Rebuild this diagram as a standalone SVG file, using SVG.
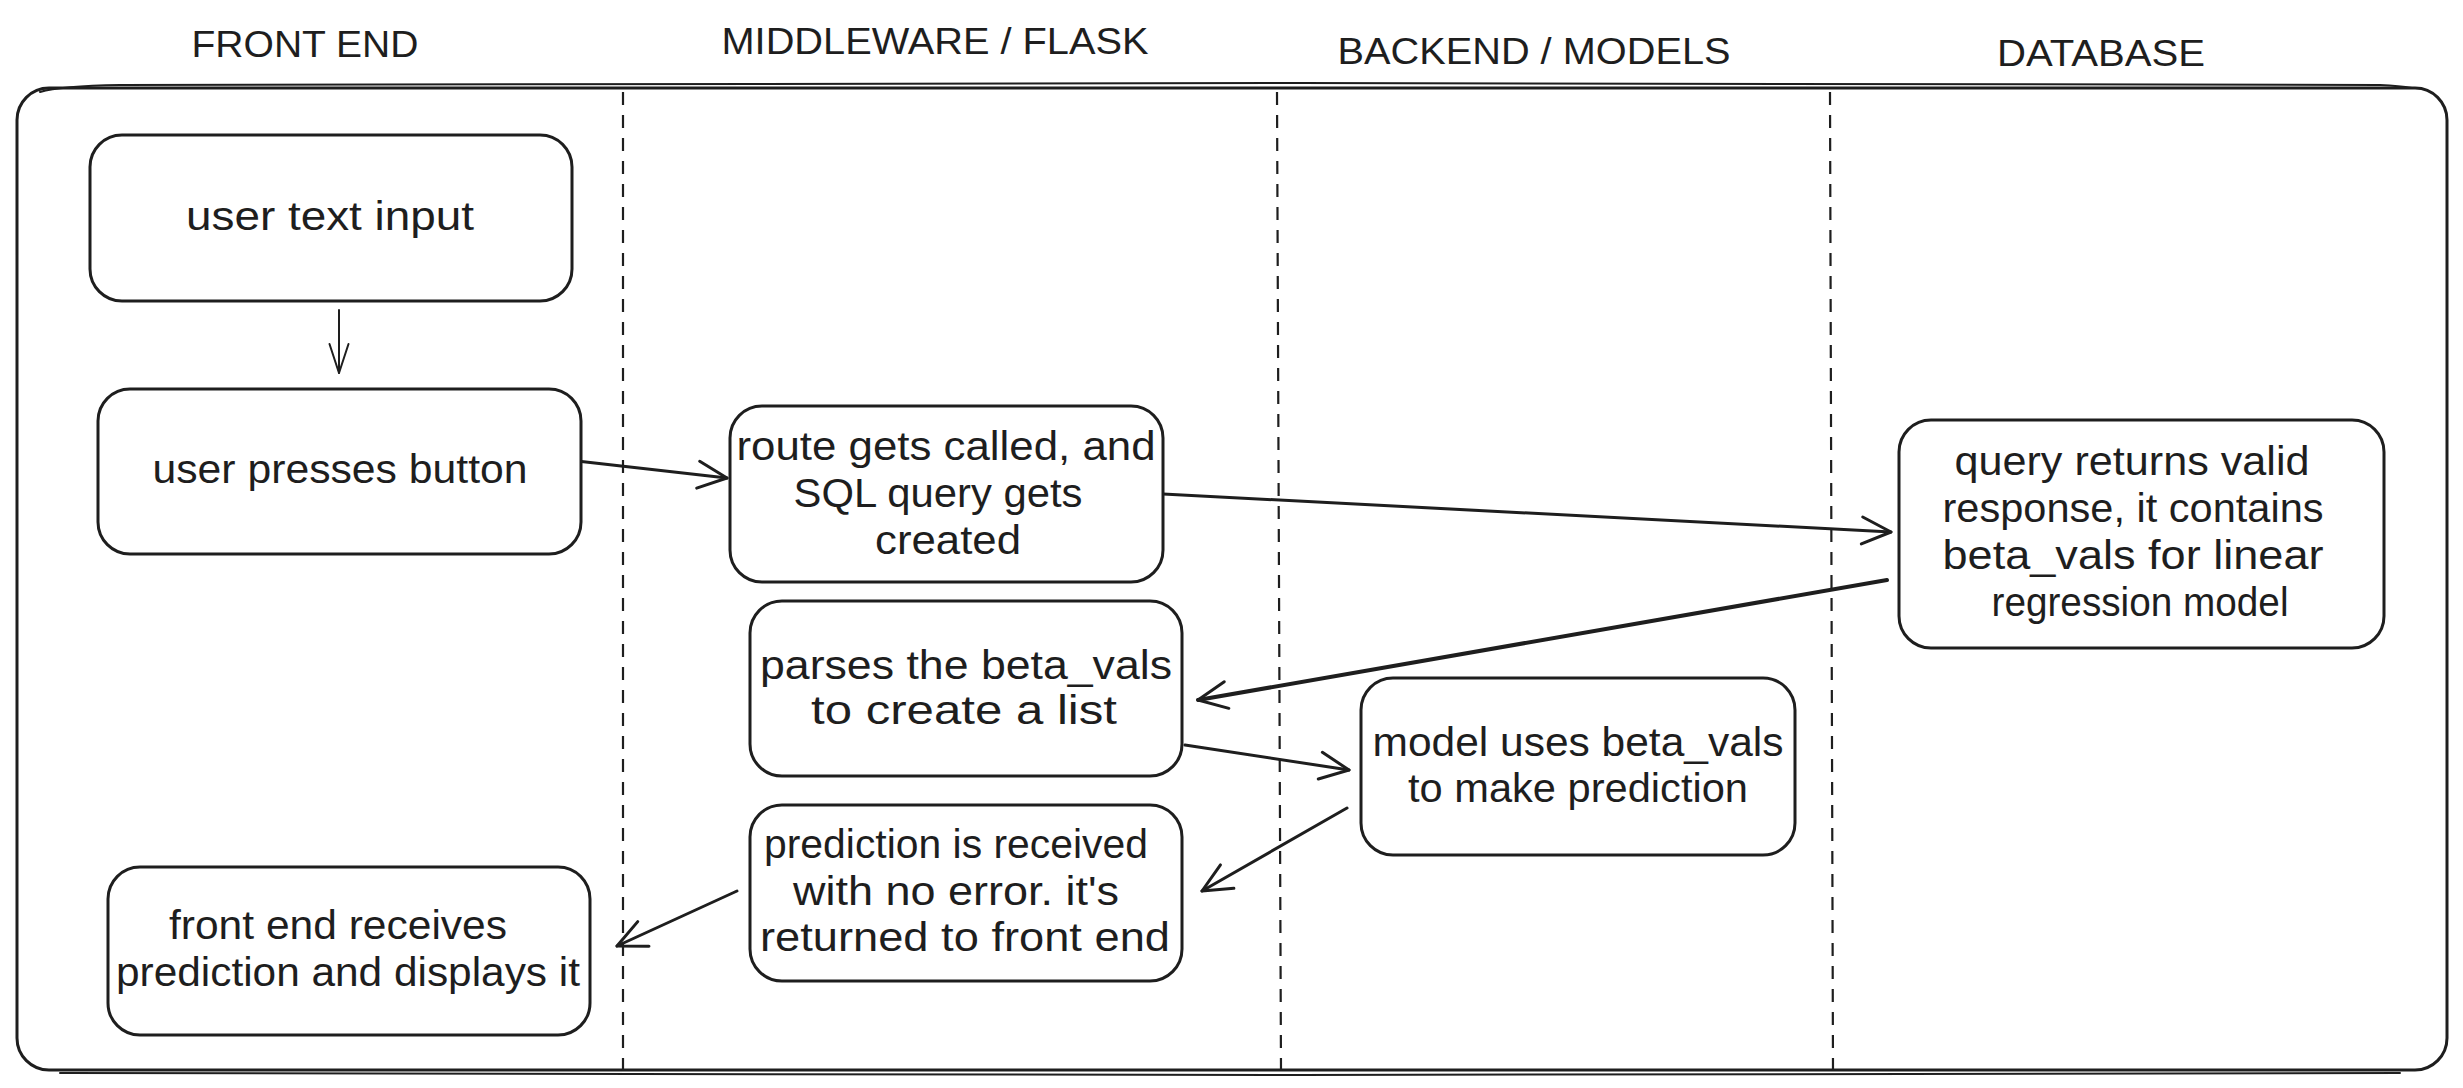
<svg xmlns="http://www.w3.org/2000/svg" width="2463" height="1088" viewBox="0 0 2463 1088">
<style>
  .box { fill: #ffffff; stroke: #1e1e1e; stroke-width: 3; }
  .frame { fill: none; stroke: #1e1e1e; stroke-width: 3; }
  .sketch { fill: none; stroke: #1e1e1e; stroke-width: 2; stroke-linecap: round; }
  .lane { fill: none; stroke: #1e1e1e; stroke-width: 2.2; stroke-dasharray: 13 10; }
  .lbl { font-family: "Liberation Sans", Arial, sans-serif; font-size: 40px; fill: #1e1e1e; text-anchor: middle; }
  .title { font-family: "Liberation Sans", Arial, sans-serif; font-size: 36px; fill: #1e1e1e; text-anchor: middle; }
  .conn { fill: none; stroke: #1e1e1e; stroke-width: 3; stroke-linecap: round; }
  .thin { stroke-width: 2; }
  .thick { stroke-width: 4; }
</style>
<defs>
  <marker id="arr" markerUnits="userSpaceOnUse" markerWidth="44" markerHeight="44" viewBox="-38 -22 44 44" refX="0" refY="0" orient="auto" overflow="visible">
    <path d="M -29 -13.5 L 0 0 L -29 13.5" fill="none" stroke="#1e1e1e" stroke-width="3" stroke-linecap="round" stroke-linejoin="round"/>
  </marker>
  <marker id="arrS" markerUnits="userSpaceOnUse" markerWidth="44" markerHeight="44" viewBox="-38 -22 44 44" refX="0" refY="0" orient="auto" overflow="visible">
    <path d="M -29 -9.5 L 0 0 L -29 9.5" fill="none" stroke="#1e1e1e" stroke-width="2" stroke-linecap="round" stroke-linejoin="round"/>
  </marker>
</defs>
<rect width="2463" height="1088" fill="#ffffff"/>

<g id="swimlanes">
  <rect class="frame" x="17" y="88" width="2430" height="982" rx="32" ry="32"/>
  <path class="sketch" d="M 40 92 Q 60 86 120 85 L 1300 83 L 2380 85 Q 2400 86 2412 88"/>
  <path class="sketch" d="M 60 1073 L 1300 1075 L 2400 1073"/>
  <line class="lane" x1="623" y1="92" x2="623" y2="1071"/>
  <line class="lane" x1="1277" y1="92" x2="1281" y2="1071"/>
  <line class="lane" x1="1830" y1="92" x2="1833" y2="1071"/>
  <text class="title" x="305" y="57" textLength="227" lengthAdjust="spacingAndGlyphs">FRONT END</text>
  <text class="title" x="935" y="54" textLength="427" lengthAdjust="spacingAndGlyphs">MIDDLEWARE / FLASK</text>
  <text class="title" x="1534" y="64" textLength="393" lengthAdjust="spacingAndGlyphs">BACKEND / MODELS</text>
  <text class="title" x="2101" y="66" textLength="208" lengthAdjust="spacingAndGlyphs">DATABASE</text>
</g>

<g id="connectors">
  <line class="conn thin" x1="339" y1="310" x2="339" y2="373" marker-end="url(#arrS)"/>
  <line class="conn" x1="577" y1="461" x2="727" y2="478" marker-end="url(#arr)"/>
  <line class="conn" x1="1163" y1="494" x2="1891" y2="532" marker-end="url(#arr)"/>
  <line class="conn thick" x1="1887" y1="580" x2="1198" y2="700" marker-end="url(#arr)"/>
  <line class="conn" x1="1185" y1="745" x2="1349" y2="770" marker-end="url(#arr)"/>
  <line class="conn" x1="1347" y1="808" x2="1202" y2="891" marker-end="url(#arr)"/>
  <line class="conn" x1="737" y1="891" x2="617" y2="946" marker-end="url(#arr)"/>
</g>

<g id="node-user-text-input">
  <rect class="box" x="90" y="135" width="482" height="166" rx="32" ry="32"/>
  <text class="lbl" x="330" y="230" textLength="288" lengthAdjust="spacingAndGlyphs">user text input</text>
</g>

<g id="node-user-presses-button">
  <rect class="box" x="98" y="389" width="483" height="165" rx="32" ry="32"/>
  <text class="lbl" x="340" y="483" textLength="375" lengthAdjust="spacingAndGlyphs">user presses button</text>
</g>

<g id="node-route-called">
  <rect class="box" x="730" y="406" width="433" height="176" rx="32" ry="32"/>
  <text class="lbl" x="946" y="460" textLength="419" lengthAdjust="spacingAndGlyphs">route gets called, and</text>
  <text class="lbl" x="938" y="507" textLength="289" lengthAdjust="spacingAndGlyphs">SQL query gets</text>
  <text class="lbl" x="948" y="554" textLength="146" lengthAdjust="spacingAndGlyphs">created</text>
</g>

<g id="node-query-returns">
  <rect class="box" x="1899" y="420" width="485" height="228" rx="32" ry="32"/>
  <text class="lbl" x="2132" y="475" textLength="355" lengthAdjust="spacingAndGlyphs">query returns valid</text>
  <text class="lbl" x="2133" y="522" textLength="381" lengthAdjust="spacingAndGlyphs">response, it contains</text>
  <text class="lbl" x="2133" y="569" textLength="381" lengthAdjust="spacingAndGlyphs">beta_vals for linear</text>
  <text class="lbl" x="2140" y="616" textLength="297" lengthAdjust="spacingAndGlyphs">regression model</text>
</g>

<g id="node-parses-beta-vals">
  <rect class="box" x="750" y="601" width="432" height="175" rx="32" ry="32"/>
  <text class="lbl" x="966" y="679" textLength="412" lengthAdjust="spacingAndGlyphs">parses the beta_vals</text>
  <text class="lbl" x="964" y="724" textLength="306" lengthAdjust="spacingAndGlyphs">to create a list</text>
</g>

<g id="node-model-uses-beta-vals">
  <rect class="box" x="1361" y="678" width="434" height="177" rx="32" ry="32"/>
  <text class="lbl" x="1578" y="756" textLength="411" lengthAdjust="spacingAndGlyphs">model uses beta_vals</text>
  <text class="lbl" x="1578" y="802" textLength="340" lengthAdjust="spacingAndGlyphs">to make prediction</text>
</g>

<g id="node-prediction-received">
  <rect class="box" x="750" y="805" width="432" height="176" rx="32" ry="32"/>
  <text class="lbl" x="956" y="858" textLength="384" lengthAdjust="spacingAndGlyphs">prediction is received</text>
  <text class="lbl" x="956" y="905" textLength="326" lengthAdjust="spacingAndGlyphs">with no error. it's</text>
  <text class="lbl" x="965" y="951" textLength="410" lengthAdjust="spacingAndGlyphs">returned to front end</text>
</g>

<g id="node-front-end-receives">
  <rect class="box" x="108" y="867" width="482" height="168" rx="32" ry="32"/>
  <text class="lbl" x="338" y="939" textLength="338" lengthAdjust="spacingAndGlyphs">front end receives</text>
  <text class="lbl" x="348" y="986" textLength="464" lengthAdjust="spacingAndGlyphs">prediction and displays it</text>
</g>
</svg>
